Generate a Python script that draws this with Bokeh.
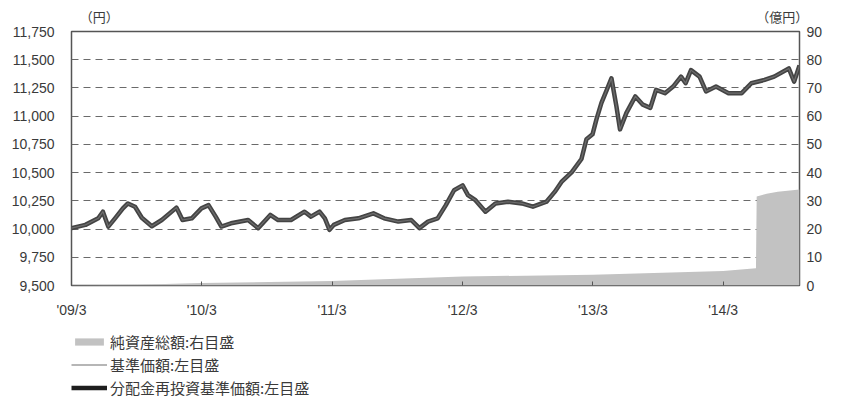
import pandas as pd
from bokeh.plotting import figure
from bokeh.layouts import column
from bokeh.models import (Range1d, LinearAxis, FixedTicker, NumeralTickFormatter,
                          Legend, LegendItem)
from bokeh.embed import file_html
from bokeh.resources import INLINE

# ---------------- data ----------------
nav_dates = [
    "2009-03-01", "2009-04-09", "2009-05-15", "2009-05-28", "2009-06-12", "2009-07-01",
    "2009-07-23", "2009-08-06", "2009-08-26", "2009-09-14", "2009-10-12", "2009-11-09",
    "2009-12-20", "2010-01-06", "2010-02-01", "2010-02-28", "2010-03-20", "2010-04-09",
    "2010-04-25", "2010-05-22", "2010-07-09", "2010-08-06", "2010-09-09", "2010-10-01",
    "2010-11-06", "2010-12-14", "2011-01-01", "2011-01-25", "2011-02-09", "2011-02-22",
    "2011-03-06", "2011-04-06", "2011-05-14", "2011-06-25", "2011-07-25", "2011-09-03",
    "2011-10-09", "2011-11-01", "2011-11-25", "2011-12-22", "2012-01-14", "2012-02-06",
    "2012-03-01", "2012-03-16", "2012-04-06", "2012-05-04", "2012-06-01", "2012-07-06",
    "2012-08-14", "2012-09-14", "2012-10-22", "2012-11-14", "2012-12-03", "2013-01-01",
    "2013-01-28", "2013-02-11", "2013-02-28", "2013-03-11", "2013-03-25", "2013-04-09",
    "2013-04-22", "2013-05-06", "2013-05-16", "2013-06-03", "2013-06-28", "2013-07-19",
    "2013-08-09", "2013-08-25", "2013-09-19", "2013-10-12", "2013-11-03", "2013-11-16",
    "2013-12-01", "2013-12-25", "2014-01-12", "2014-02-09", "2014-03-16", "2014-04-22",
    "2014-05-19", "2014-06-25", "2014-07-22", "2014-09-01", "2014-09-16", "2014-10-01",
]
nav_values = [
    10008, 10037, 10095, 10154, 10022, 10095,
    10183, 10227, 10198, 10100, 10025, 10080,
    10190, 10080, 10095, 10183, 10212, 10110,
    10022, 10051, 10080, 10008, 10125, 10080,
    10080, 10154, 10110, 10154, 10095, 9993,
    10037, 10080, 10095, 10139, 10095, 10066,
    10080, 10008, 10066, 10095, 10212, 10344,
    10387, 10300, 10256, 10154, 10227, 10242,
    10227, 10198, 10242, 10329, 10417, 10504,
    10621, 10796, 10839, 10971, 11117, 11233,
    11336, 11087, 10883, 11029, 11175, 11102,
    11073, 11233, 11204, 11262, 11350, 11292,
    11408, 11350, 11219, 11262, 11204, 11204,
    11292, 11321, 11350, 11423, 11306, 11450,
]
# no distributions were paid, so the reinvested series equals the NAV
reinvest_values = list(nav_values)

asset_dates = ["2009-03-01", "2009-09-01", "2010-03-01", "2011-03-01", "2012-03-01",
               "2013-03-01", "2014-03-01", "2014-06-01", "2014-06-03", "2014-07-01",
               "2014-08-01", "2014-10-01"]
asset_values = [0.1, 0.3, 0.9, 1.6, 3.2, 3.8, 5.1, 6.1, 31.5, 32.5, 33.2, 34.0]

tick_dates = ["2009-03-01", "2010-03-01", "2011-03-01", "2012-03-01", "2013-03-01", "2014-03-01"]
tick_labels = ["'09/3", "'10/3", "'11/3", "'12/3", "'13/3", "'14/3"]
left_ticks = [9500, 9750, 10000, 10250, 10500, 10750, 11000, 11250, 11500, 11750]
right_ticks = [0, 10, 20, 30, 40, 50, 60, 70, 80, 90]

unit_label_dates = ["2009-05-18", "2014-08-14"]
unit_labels = ["（円）", "（億円）"]

legend_labels = ["純資産総額:右目盛", "基準価額:左目盛", "分配金再投資基準価額:左目盛"]

# ---------------- styles ----------------
AREA_COLOR = "#c2c2c2"
THICK_COLOR = "#444444"
THIN_COLOR = "#6e6e6e"
NUM_FONT = "Liberation Sans"
CJK_FONT = "Noto Sans CJK JP"
TXT_COLOR = "#3a3a3a"


def ms(d):
    return int(pd.Timestamp(d).value // 10**6)


def bare_axis(axis, standoff, font, size):
    axis.axis_line_color = None
    axis.major_tick_line_color = None
    axis.major_tick_out = 0
    axis.major_tick_in = 0
    axis.minor_tick_line_color = None
    axis.major_label_standoff = standoff
    axis.major_label_text_font = font
    axis.major_label_text_font_size = size
    axis.major_label_text_color = TXT_COLOR


ad = pd.to_datetime(asset_dates)
nd = pd.to_datetime(nav_dates)

# ---------------- main chart ----------------
p = figure(width=825, height=320, x_axis_type="datetime",
           x_range=Range1d(pd.Timestamp("2009-03-01"), pd.Timestamp("2014-10-01")),
           y_range=Range1d(9500, 11750),
           output_backend="svg", toolbar_location=None,
           min_border_left=71, min_border_right=25, min_border_top=31, min_border_bottom=32)
p.extra_y_ranges = {"assets": Range1d(0, 90)}

p.outline_line_color = "#555555"
p.outline_line_width = 1.5

# x axis
xa = p.xaxis[0]
xa.ticker = FixedTicker(ticks=[ms(d) for d in tick_dates])
xa.major_label_overrides = {ms(d): lab for d, lab in zip(tick_dates, tick_labels)}
bare_axis(xa, 16, NUM_FONT, "14px")
xa.major_tick_in = 4
xa.major_tick_line_color = "#555555"

# left axis
ya = p.yaxis[0]
ya.ticker = FixedTicker(ticks=left_ticks)
ya.formatter = NumeralTickFormatter(format="0,0")
bare_axis(ya, 17, NUM_FONT, "14px")

# right axis
ra = LinearAxis(y_range_name="assets", ticker=FixedTicker(ticks=right_ticks))
bare_axis(ra, 7, NUM_FONT, "14px")
p.add_layout(ra, "right")

# unit captions above the frame, as an axis with two labelled ticks
ua = LinearAxis(ticker=FixedTicker(ticks=[ms(d) for d in unit_label_dates]))
ua.major_label_overrides = {ms(d): lab for d, lab in zip(unit_label_dates, unit_labels)}
bare_axis(ua, 6, CJK_FONT, "13px")
p.add_layout(ua, "above")

p.xgrid.grid_line_color = None
p.ygrid.grid_line_color = "#6a6a6a"
p.ygrid.grid_line_width = 1.2
p.ygrid.grid_line_dash = "7 5"

p.varea(x=ad, y1=[0] * len(asset_values), y2=asset_values,
        y_range_name="assets", fill_color=AREA_COLOR, fill_alpha=1.0)
p.line(x=nd, y=reinvest_values, line_color=THICK_COLOR, line_width=4.5, line_join="round")
p.line(x=nd, y=nav_values, line_color=THIN_COLOR, line_width=1.2, line_join="round")

# ---------------- legend strip ----------------
# same series drawn again, but outside this strip's ranges: only the legend shows
q = figure(width=825, height=78, x_range=Range1d(0, 1), y_range=Range1d(0, 1),
           output_backend="svg", toolbar_location=None,
           x_axis_location=None, y_axis_location=None, min_border=0)
q.outline_line_color = None
q.grid.visible = False

lg_area = q.varea(x=ad, y1=[0] * len(asset_values), y2=asset_values,
                  fill_color=AREA_COLOR, fill_alpha=1.0)
lg_thin = q.line(x=nd, y=nav_values, line_color=THIN_COLOR, line_width=1.2)
lg_thick = q.line(x=nd, y=reinvest_values, line_color="#1e1e1e", line_width=4.5)

legend = Legend(items=[LegendItem(label=legend_labels[0], renderers=[lg_area]),
                       LegendItem(label=legend_labels[1], renderers=[lg_thin]),
                       LegendItem(label=legend_labels[2], renderers=[lg_thick])],
                location=(0, 0), orientation="vertical",
                glyph_width=36, glyph_height=9, label_height=14, spacing=2,
                padding=0, margin=0, border_line_color=None, background_fill_alpha=0,
                label_text_font=CJK_FONT, label_text_font_size="15px",
                label_text_color=TXT_COLOR, label_standoff=3)
q.add_layout(legend)

layout = column(p, q, spacing=0)
open("out.html", "w").write(file_html(layout, INLINE))
